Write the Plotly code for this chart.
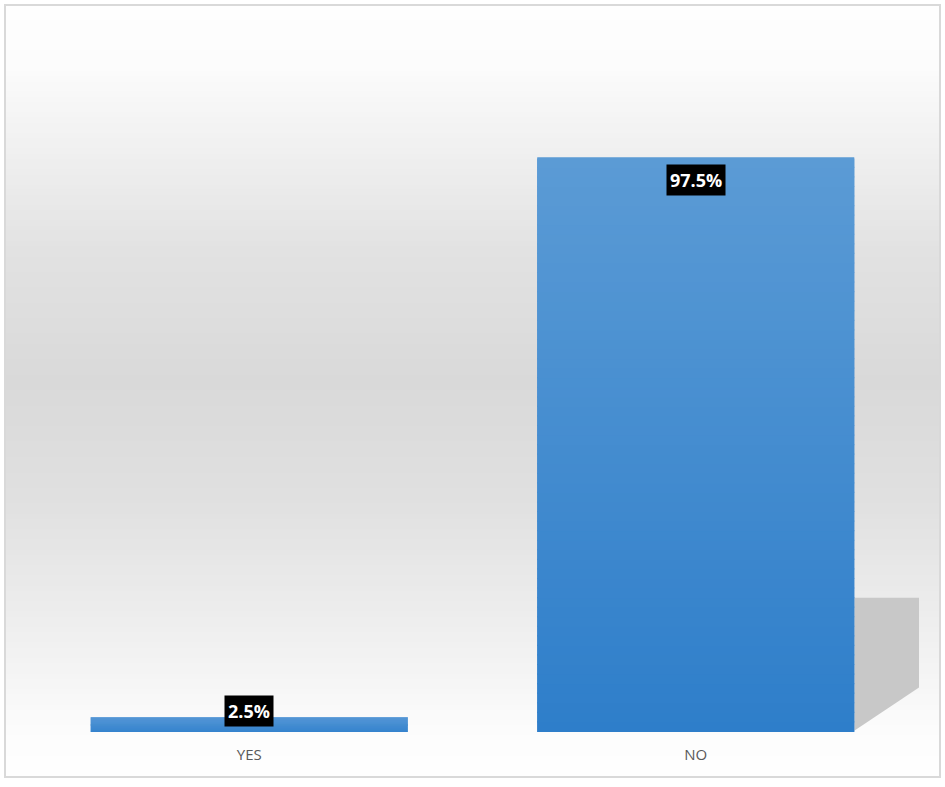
import plotly.graph_objects as go

categories = ["YES", "NO"]
values = [0.025, 0.975]
labels = ["2.5%", "97.5%"]

W, H = 945, 787
ML, MR, MT, MB = 26, 26, 26, 55
plot_h = H - MT - MB
plot_w = W - ML - MR
BAR_W = 0.71

fig = go.Figure()
fig.add_trace(go.Bar(
    x=categories, y=values,
    marker=dict(color="#4a8fd4", line=dict(width=0)),
    width=BAR_W, hoverinfo="skip",
))


def px2py(py):
    return (H - MB - py) / plot_h


def px2px(px):
    return (px - ML) / plot_w


top_px, bot_px = 5, 777
left_px, right_px = 5, 940
stops = [(0.0, 254), (0.08, 252), (0.16, 243), (0.32, 226), (0.49, 217),
         (0.64, 224), (0.78, 236), (0.90, 248), (0.95, 253), (1.0, 254)]


def grey_at(t):
    for i in range(len(stops) - 1):
        t0, g0 = stops[i]
        t1, g1 = stops[i + 1]
        if t0 <= t <= t1:
            return g0 + (g1 - g0) * (t - t0) / (t1 - t0)
    return stops[-1][1]


shapes = []
n = 150
for i in range(n):
    y0p = top_px + (bot_px - top_px) * i / n
    y1p = top_px + (bot_px - top_px) * (i + 1) / n
    g = int(round(grey_at((i + 0.5) / n)))
    shapes.append(dict(type="rect", xref="paper", yref="paper", layer="below",
                       x0=px2px(left_px), x1=px2px(right_px),
                       y0=px2py(y1p) - 0.001, y1=px2py(y0p) + 0.001,
                       fillcolor=f"rgb({g},{g},{g})", line=dict(width=0)))
# frame border
shapes.append(dict(type="rect", xref="paper", yref="paper", layer="above",
                   x0=px2px(left_px), x1=px2px(right_px),
                   y0=px2py(bot_px), y1=px2py(top_px),
                   fillcolor="rgba(0,0,0,0)", line=dict(color="#d9d9d9", width=2)))
# soft shadow behind the NO bar
shapes.append(dict(type="path", xref="x", yref="y", layer="below",
                   path="M 1.355 0.002 L 1.355 0.228 L 1.505 0.228 L 1.505 0.078 Z",
                   fillcolor="rgb(200,200,200)", line=dict(width=0)))

# vertical gradient on each bar (light top -> darker bottom), derived from the data
top_rgb = (91, 155, 213)
bot_rgb = (46, 126, 202)
segs = 60
for idx, v in enumerate(values):
    for k in range(segs):
        f = (k + 0.5) / segs
        r, g, b = [int(round(bot_rgb[j] + (top_rgb[j] - bot_rgb[j]) * f)) for j in range(3)]
        shapes.append(dict(type="rect", xref="x", yref="y", layer="above",
                           x0=idx - BAR_W / 2, x1=idx + BAR_W / 2,
                           y0=v * k / segs, y1=v * (k + 1) / segs + v * 0.002,
                           fillcolor=f"rgb({r},{g},{b})", line=dict(width=0)))

annotations = []
for c, v, lab in zip(categories, values, labels):
    if v > 0.5:
        annotations.append(dict(x=c, y=v, text=f"<b>{lab}</b>", showarrow=False,
                                yanchor="top", yshift=-6, bgcolor="black",
                                font=dict(color="white", size=18, family="Open Sans"),
                                borderpad=3))
    else:
        annotations.append(dict(x=c, y=v, text=f"<b>{lab}</b>", showarrow=False,
                                yanchor="middle", yshift=6, bgcolor="black",
                                font=dict(color="white", size=18, family="Open Sans"),
                                borderpad=3))

fig.update_layout(
    width=W, height=H,
    margin=dict(l=ML, r=MR, t=MT, b=MB, pad=0),
    paper_bgcolor="white", plot_bgcolor="rgba(0,0,0,0)",
    showlegend=False, bargap=0.29,
    shapes=shapes, annotations=annotations,
    xaxis=dict(type="category", range=[-0.5, 1.5], showgrid=False, zeroline=False,
               showline=False, ticks="", ticklen=0, ticklabelstandoff=12,
               tickfont=dict(family="Open Sans", size=15, color="#595959")),
    yaxis=dict(range=[0, 1.2], visible=False, showgrid=False, zeroline=False),
    font=dict(family="Open Sans"),
)

fig.write_html("out.html", config={"displayModeBar": False},
               post_script="document.body.style.margin='0px';")
